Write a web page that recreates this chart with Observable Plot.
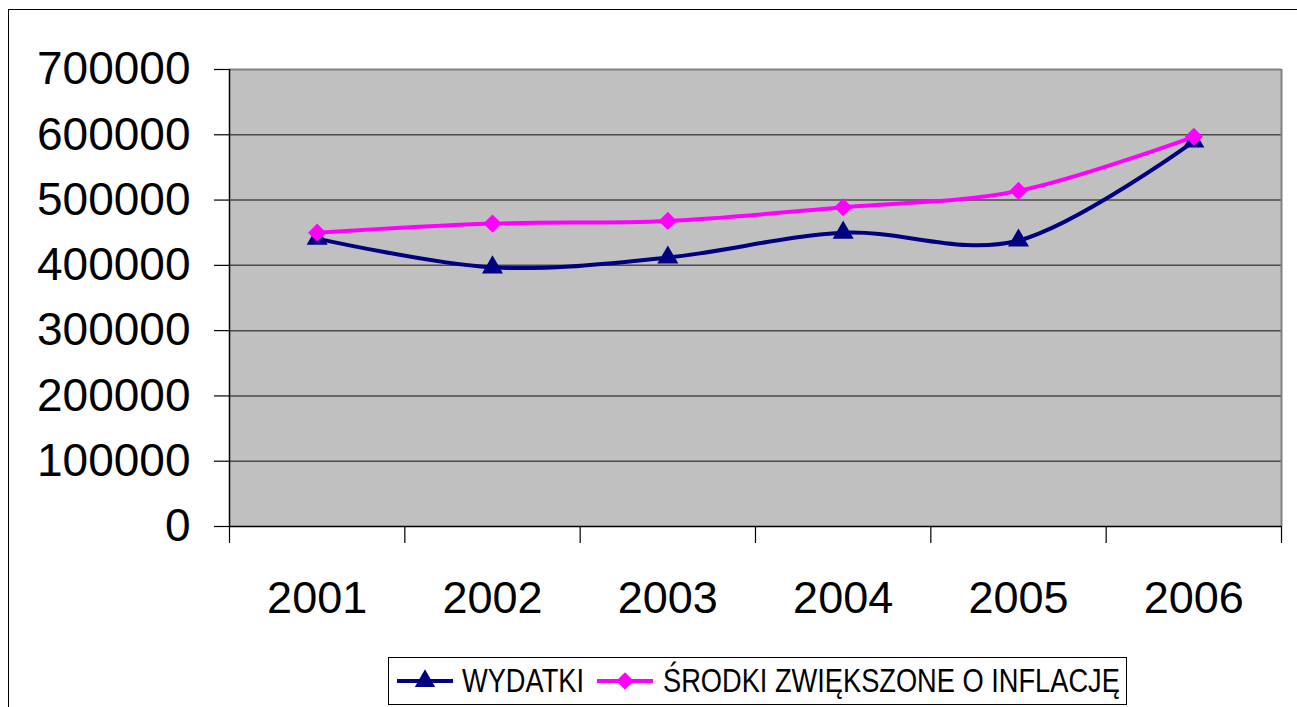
<!DOCTYPE html>
<html>
<head>
<meta charset="utf-8">
<script src="https://cdn.jsdelivr.net/npm/d3@7"></script>
<script src="https://cdn.jsdelivr.net/npm/@observablehq/plot@0.6"></script>
<style>
  html, body { margin: 0; padding: 0; background: #fff; overflow: hidden; }
  #wrap { position: relative; width: 1297px; height: 707px; }
  #outer { position: absolute; left: 8px; top: 9px; width: 1320px; height: 760px; border: 1.5px solid #000; box-sizing: border-box; }
  #chart { position: absolute; left: 0; top: 0; }
  #legend { position: absolute; left: 388px; top: 657px; width: 739px; height: 48px; border: 1.5px solid #000; box-sizing: border-box; background: #fff;
            font-family: "Liberation Sans", Arial, sans-serif; font-size: 33px; color: #000; }
  #legend .item { position: absolute; top: 0; height: 45px; display: flex; align-items: center; white-space: nowrap; }
  #legend .txt { transform: scaleX(0.825); transform-origin: 0 50%; }
  #legend svg { display: block; }
</style>
</head>
<body>
<div id="wrap">
  <div id="outer"></div>
  <div id="chart"></div>
  <div id="legend"></div>
</div>
<script>
// ---- data ----
const years = [2001, 2002, 2003, 2004, 2005, 2006];
const wydatki = [441000, 397000, 412000, 450000, 438000, 590000];
const srodki = [450000, 464000, 468000, 489000, 514000, 597000];
const seriesNames = ["WYDATKI", "ŚRODKI ZWIĘKSZONE O INFLACJĘ"];
const seriesColors = ["#000080", "#FF00FF"];
const seriesSymbols = ["triangle", "diamond2"];
const yTicks = [0, 100000, 200000, 300000, 400000, 500000, 600000, 700000];

const wData = years.map((yr, i) => ({year: yr, value: wydatki[i]}));
const sData = years.map((yr, i) => ({year: yr, value: srodki[i]}));
const bounds = [years[0] - 0.5, ...years.map(y => y + 0.5)];
const xDomain = [bounds[0], bounds[bounds.length - 1]];

const chart = Plot.plot({
  width: 1297,
  height: 640,
  marginLeft: 229,
  marginRight: 16,
  marginTop: 69,
  marginBottom: 114,
  style: {fontFamily: "'Liberation Sans', Arial, sans-serif", background: "transparent", color: "#000", overflow: "visible"},
  x: {type: "linear", domain: xDomain, label: null},
  y: {domain: [0, 700000], label: null},
  marks: [
    Plot.frame({fill: "#C0C0C0", stroke: null}),
    Plot.ruleY(yTicks.slice(1, -1), {stroke: "#4a4a4a", strokeWidth: 1.5}),
    Plot.ruleY([yTicks[yTicks.length - 1]], {stroke: "#808080", strokeWidth: 2}),
    Plot.ruleX([xDomain[1]], {stroke: "#808080", strokeWidth: 2}),
    Plot.ruleX([xDomain[0]], {stroke: "#000", strokeWidth: 1.5}),
    Plot.ruleY([0], {stroke: "#000", strokeWidth: 1.5}),
    Plot.axisY({ticks: yTicks, tickSize: 15, tickPadding: 24, fontSize: 46, label: null, tickFormat: d => String(d), stroke: "#000", strokeWidth: 1.2}),
    Plot.axisX({ticks: bounds, tickSize: 17, label: null, tickFormat: () => "", stroke: "#000", strokeWidth: 1.2}),
    Plot.axisX({ticks: years, tickSize: 0, tickPadding: 55, fontSize: 45, label: null, tickFormat: d => String(d)}),
    Plot.line(wData, {x: "year", y: "value", stroke: seriesColors[0], strokeWidth: 4, curve: "cardinal", tension: 0}),
    Plot.line(sData, {x: "year", y: "value", stroke: seriesColors[1], strokeWidth: 4, curve: "cardinal", tension: 0}),
    Plot.dot(wData, {x: "year", y: "value", fill: seriesColors[0], stroke: null, symbol: seriesSymbols[0], r: 7.8}),
    Plot.dot(sData, {x: "year", y: "value", fill: seriesColors[1], stroke: null, symbol: seriesSymbols[1], r: 8.2})
  ]
});
document.getElementById("chart").appendChild(chart);

// ---- legend ----
const legend = document.getElementById("legend");
const positions = [{sw: 8, tx: 73}, {sw: 208, tx: 274}];
seriesNames.forEach((name, i) => {
  const sw = document.createElement("div");
  sw.className = "item";
  sw.style.left = positions[i].sw + "px";
  const s = d3.create("svg").attr("width", 56).attr("height", 30);
  s.append("line").attr("x1", 0).attr("x2", 56).attr("y1", 15).attr("y2", 15)
    .attr("stroke", seriesColors[i]).attr("stroke-width", 4);
  const sym = d3.symbol(i === 0 ? d3.symbolTriangle : d3.symbolDiamond2, i === 0 ? 180 : 200);
  s.append("path").attr("d", sym()).attr("transform", "translate(28,15)").attr("fill", seriesColors[i]);
  sw.appendChild(s.node());
  legend.appendChild(sw);
  const tx = document.createElement("div");
  tx.className = "item";
  tx.style.left = positions[i].tx + "px";
  const span = document.createElement("span");
  span.className = "txt";
  span.style.display = "inline-block";
  span.textContent = name;
  tx.appendChild(span);
  legend.appendChild(tx);
});
</script>
</body>
</html>
